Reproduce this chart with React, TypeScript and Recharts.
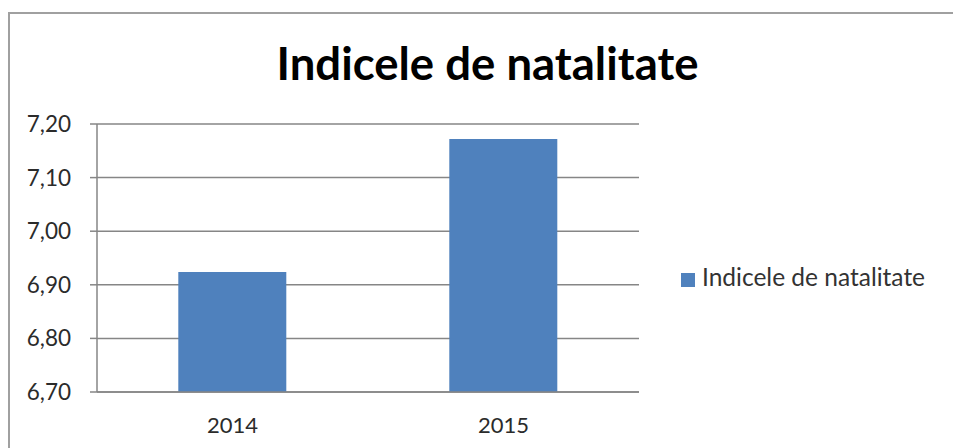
import React from 'react';
import { BarChart, Bar, XAxis, YAxis, CartesianGrid, Legend } from 'recharts';

const categories = ['2014', '2015'];
const natalitate = [6.924, 7.172];
const yTicks = [6.7, 6.8, 6.9, 7.0, 7.1, 7.2];
const seriesName = 'Indicele de natalitate';
const titleText = 'Indicele de natalitate';

const data = categories.map((c, i) => ({ year: c, value: natalitate[i], edge: i }));

const fmt = (v: number) => v.toFixed(2).replace('.', ',');

export default function App() {
  return (
    <>
      <style>{'html,body{overflow:hidden;}'}</style>
      <div
        style={{
          position: 'absolute',
          left: 8,
          top: 12,
          width: 943,
          height: 436,
          borderTop: '2px solid #a0a0a0',
          borderLeft: '2px solid #a0a0a0',
          fontFamily: 'Lato, sans-serif',
          background: '#fff',
          overflow: 'hidden',
        }}
      >
        <div
          style={{
            position: 'absolute',
            left: 177.5,
            width: 600,
            top: 26,
            textAlign: 'center',
            fontWeight: 700,
            fontSize: 45.5,
            lineHeight: 1,
            color: '#000',
            zIndex: 2,
          }}
        >
          {titleText}
        </div>
        <BarChart
          width={941}
          height={434}
          data={data}
          margin={{ top: 110, right: 312, bottom: 0, left: 0 }}
          barCategoryGap="30%"
        >
          <CartesianGrid vertical={false} stroke="#868686" strokeWidth={1.5} />
          <XAxis
            xAxisId="edge"
            type="number"
            dataKey="edge"
            domain={[0, 2]}
            ticks={[0, 1, 2]}
            tick={false}
            axisLine={false}
            tickLine={{ stroke: '#868686', strokeWidth: 1.5 }}
            tickSize={7}
            height={0}
          />
          <XAxis
            dataKey="year"
            height={56}
            tickLine={false}
            axisLine={{ stroke: '#868686', strokeWidth: 1.5 }}
            tickSize={0}
            tickMargin={25}
            tick={{ fill: '#2b2b2b', fontSize: 22 }}
          />
          <YAxis
            width={87}
            domain={[6.7, 7.2]}
            ticks={yTicks}
            tickFormatter={fmt}
            allowDataOverflow
            axisLine={{ stroke: '#868686', strokeWidth: 1.5 }}
            tickLine={{ stroke: '#868686', strokeWidth: 1.5 }}
            tickSize={7}
            tickMargin={19}
            tick={{ fill: '#2b2b2b', fontSize: 22.5 }}
          />
          <Legend
            layout="vertical"
            align="center"
            verticalAlign="middle"
            iconType="square"
            iconSize={14}
            wrapperStyle={{ left: 671, top: 249, width: 270, fontSize: 24.5, lineHeight: '28px' }}
            formatter={(v: string) => <span style={{ color: '#333', marginLeft: 3 }}>{v}</span>}
          />
          <Bar dataKey="value" name={seriesName} fill="#4f81bd" isAnimationActive={false} />
        </BarChart>
      </div>
    </>
  );
}
